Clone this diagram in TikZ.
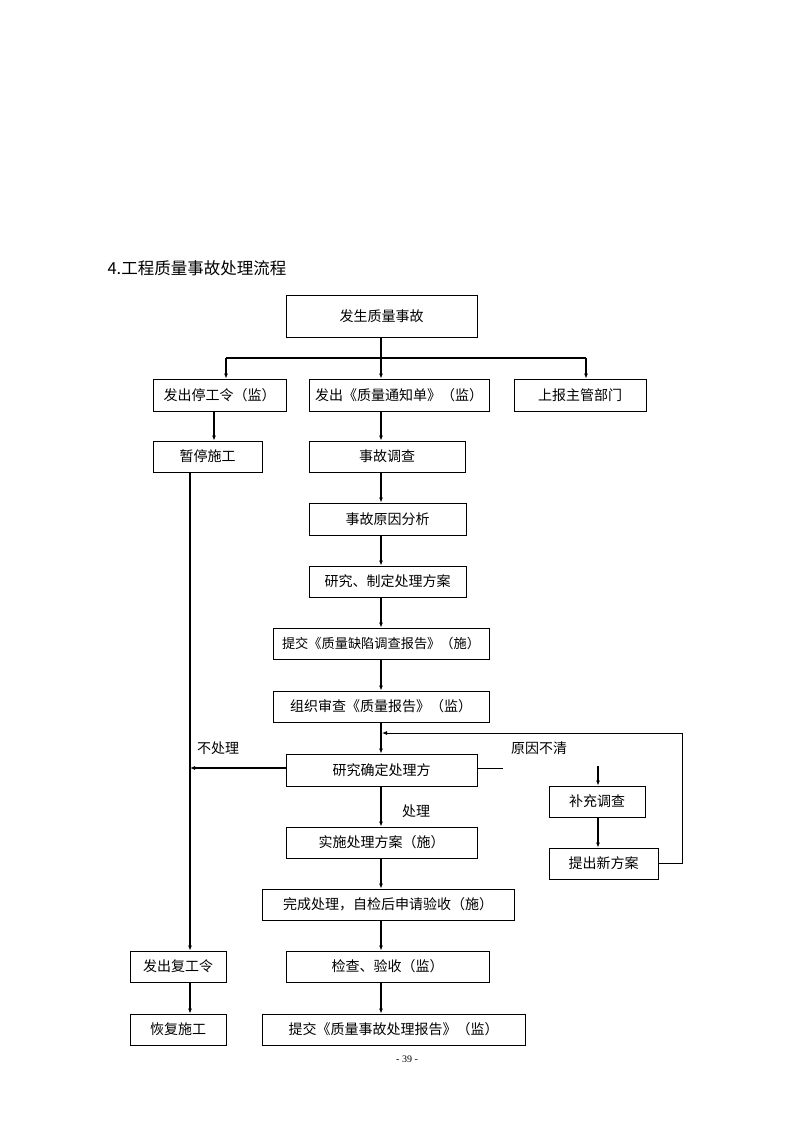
\documentclass[tikz,border=0pt]{standalone}
\usepackage{fontspec}
\setmainfont{Liberation Serif}
\newfontfamily\cjk{Noto Sans CJK SC}
\usetikzlibrary{arrows.meta, positioning}

\begin{document}
\begin{tikzpicture}[x=1pt, y=-1pt, font=\cjk\fontsize{14}{16}\selectfont,
	box/.style={draw, line width=0.8pt, inner sep=0pt, minimum height=31},
	flow/.style={line width=1.6pt, -{Latex[length=5pt,width=4pt]}},
	fb/.style={line width=0.8pt, -{Latex[length=5pt,width=4pt]}}]
	\useasboundingbox (0,0) rectangle (794,1123);

	\node[anchor=west, font=\cjk\fontsize{16.5}{18}\selectfont] (Title) at (104,268) {4.工程质量事故处理流程};

	% main column
	\coordinate (Spine) at (381,0);
	\coordinate (LeftCol) at (190,0);

	\node (Accident) [box, minimum width=191, minimum height=42] at (381.5,316) {发生质量事故};

	\node (Stop) [box, minimum width=133, minimum height=32] at (219.5,395) {发出停工令（监）};
	\node (Notice) [box, minimum width=180, minimum height=32] at (399,395) {发出《质量通知单》（监）};
	\node (Report) [box, minimum width=132, minimum height=32] at (580,395) {上报主管部门};

	\coordinate (BrLeft) at (226,358);
	\coordinate (BrRight) at (586,358);
	\draw[line width=1.6pt] (BrLeft) -- (BrRight);
	\draw[line width=1.6pt] (Accident.south -| Spine) -- (Spine |- BrLeft);
	\draw[flow] (BrLeft) -- (BrLeft |- Stop.north);
	\draw[flow] (Spine |- BrLeft) -- (Notice.north -| Spine);
	\draw[flow] (BrRight) -- (BrRight |- Report.north);

	\node (Pause) [box, minimum width=109] at (207.5,456.5) {暂停施工};
	\coordinate (StopCol) at (214,0);
	\draw[flow] (Stop.south -| StopCol) -- (Pause.north -| StopCol);

	\node (Investigate) [box, minimum width=156] at (387,456.5) {事故调查};
	\node (Cause) [box, minimum width=157, minimum height=32] at (387.5,519) {事故原因分析};
	\node (Plan) [box, minimum width=157] at (387.5,581.5) {研究、制定处理方案};
	\node (Defect) [box, minimum width=216, font=\cjk\fontsize{13.2}{16}\selectfont] at (381,643.5) {提交《质量缺陷调查报告》（施）};
	\node (Review) [box, minimum width=216] at (381,706.5) {组织审查《质量报告》（监）};
	\node (Decide) [box, minimum width=191, minimum height=32] at (381.5,770) {研究确定处理方};

	\draw[flow] (Notice.south -| Spine) -- (Investigate.north -| Spine);
	\draw[flow] (Investigate.south -| Spine) -- (Cause.north -| Spine);
	\draw[flow] (Cause.south -| Spine) -- (Plan.north -| Spine);
	\draw[flow] (Plan.south -| Spine) -- (Defect.north -| Spine);
	\draw[flow] (Defect.south -| Spine) -- (Review.north -| Spine);
	\draw[flow] (Review.south -| Spine) -- (Decide.north -| Spine);

	% not handled
	\coordinate (LeftJoin) at (190,768);
	\draw[flow] (Decide.west |- LeftJoin) -- (LeftJoin);
	\node (NoFix) at (218,748) {不处理};

	% cause unclear
	\coordinate (StubEnd) at (503,768);
	\draw[line width=0.8pt] (Decide.east |- StubEnd) -- (StubEnd);
	\node (Unclear) at (539,748) {原因不清};
	\node (Supplement) [box, minimum width=96] at (597,801.5) {补充调查};
	\node (NewPlan) [box, minimum width=109] at (603.5,863.5) {提出新方案};
	\coordinate (DownStart) at (598,766);
	\draw[flow] (DownStart) -- (DownStart |- Supplement.north);
	\draw[flow] (Supplement.south -| DownStart) -- (NewPlan.north -| DownStart);
	\coordinate (Loop) at (682,733);
	\coordinate (LoopEnd) at (382,733);
	\draw[fb] (NewPlan.east) -| (Loop) -- (LoopEnd);

	% handled
	\node (Implement) [box, minimum width=191] at (381.5,842.5) {实施处理方案（施）};
	\node (Fix) at (416,811) {处理};
	\node (Complete) [box, minimum width=252] at (388,904.5) {完成处理，自检后申请验收（施）};
	\node (Check) [box, minimum width=203] at (387.5,966.5) {检查、验收（监）};
	\node (Final) [box, minimum width=263] at (393.5,1029.5) {提交《质量事故处理报告》（监）};

	\draw[flow] (Decide.south -| Spine) -- (Implement.north -| Spine);
	\draw[flow] (Implement.south -| Spine) -- (Complete.north -| Spine);
	\draw[flow] (Complete.south -| Spine) -- (Check.north -| Spine);
	\draw[flow] (Check.south -| Spine) -- (Final.north -| Spine);

	% left column
	\node (Resume) [box, minimum width=96] at (178,966.5) {发出复工令};
	\node (Restart) [box, minimum width=96] at (178,1029.5) {恢复施工};
	\draw[flow] (Pause.south -| LeftCol) -- (Resume.north -| LeftCol);
	\draw[flow] (Resume.south -| LeftCol) -- (Restart.north -| LeftCol);

	\node (PageNo) at (407,1059) {\rmfamily\fontsize{10}{12}\selectfont - 39 -};
\end{tikzpicture}
\end{document}
